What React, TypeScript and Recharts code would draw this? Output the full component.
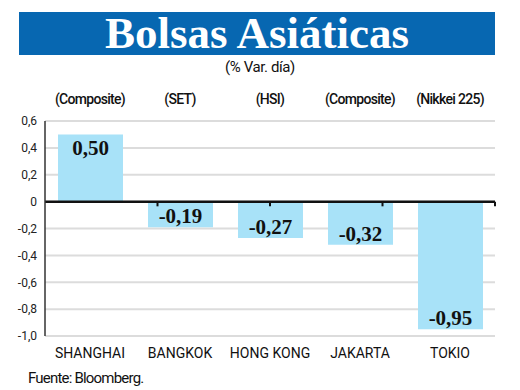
import React from "react";
import { BarChart, Bar, XAxis, YAxis, CartesianGrid, ReferenceLine, LabelList } from "recharts";

const markets = ["SHANGHAI", "BANGKOK", "HONG KONG", "JAKARTA", "TOKIO"];
const indices = ["(Composite)", "(SET)", "(HSI)", "(Composite)", "(Nikkei 225)"];
const changes = [0.5, -0.19, -0.27, -0.32, -0.95];
const yTicks = [-1, -0.8, -0.6, -0.4, -0.2, 0, 0.2, 0.4, 0.6];
const boundaryTicks = [1, 2, 3, 4, 5];

const data = markets.map((m, i) => ({ market: m, index: indices[i], value: changes[i] }));

const fmtTick = (v: number) => (v === 0 ? "0" : v.toFixed(1).replace(".", ","));
const fmtVal = (v: number) => v.toFixed(2).replace(".", ",");

const ValueLabel = (props: any) => {
  const { x, y, width, height, value } = props;
  const top = Math.min(y, y + height);
  const bottom = Math.max(y, y + height);
  const cy = value >= 0 ? top + 14 : bottom - 11;
  return (
    <text
      x={x + width / 2}
      y={cy}
      textAnchor="middle"
      dominantBaseline="central"
      fontFamily="'Liberation Serif', serif"
      fontWeight="bold"
      fontSize={21}
      fill="#111"
    >
      {fmtVal(value)}
    </text>
  );
};

export default function App() {
  return (
    <div style={{ position: "fixed", left: 0, top: 0, width: 520, height: 390, background: "#fff" }}>
      <div
        style={{
          position: "absolute",
          left: 19,
          top: 12,
          width: 476,
          height: 43,
          background: "#0767b1",
          color: "#fff",
          fontFamily: "'Liberation Serif', serif",
          fontWeight: "bold",
          fontSize: 45,
          lineHeight: "43px",
          textAlign: "center",
        }}
      >
        Bolsas Asiáticas
      </div>
      <div
        style={{
          position: "absolute",
          left: 0,
          top: 58,
          width: 520,
          textAlign: "center",
          fontFamily: "Roboto, sans-serif",
          fontSize: 15,
          letterSpacing: -0.4,
          color: "#111",
        }}
      >
        (% Var. día)
      </div>
      <BarChart
        width={520}
        height={390}
        data={data}
        margin={{ top: 91, right: 25, bottom: 24, left: 0 }}
      >
        <CartesianGrid vertical={false} stroke="#dcdcdc" strokeWidth={2} />
        <XAxis
          dataKey="market"
          axisLine={false}
          tickLine={false}
          height={30}
          tick={{ fontFamily: "Roboto, sans-serif", fontSize: 14, fill: "#111" }}
          tickMargin={6}
        />
        <XAxis
          xAxisId="top"
          dataKey="index"
          orientation="top"
          axisLine={false}
          tickLine={false}
          height={30}
          tick={{ fontFamily: "Roboto, sans-serif", fontSize: 14, fill: "#111", fontWeight: 500, letterSpacing: -0.7 }}
          tickMargin={11}
        />
        <XAxis xAxisId="num" type="number" domain={[0, 5]} hide />
        <YAxis
          width={45}
          domain={[-1, 0.6]}
          ticks={yTicks}
          tickFormatter={fmtTick}
          axisLine={{ stroke: "#333", strokeWidth: 1.5 }}
          tickLine={false}
          tickMargin={2}
          tick={{ fontFamily: "Roboto, sans-serif", fontSize: 12, fill: "#222" }}
          interval={0}
        />
        <Bar dataKey="value" fill="#a8e2f8" barSize={65} isAnimationActive={false}>
          <LabelList dataKey="value" content={ValueLabel} />
        </Bar>
        <ReferenceLine y={0} stroke="#111" strokeWidth={2.5} />
        {boundaryTicks.map((b) => (
          <ReferenceLine
            key={b}
            xAxisId="num"
            segment={[
              { x: b, y: 0 },
              { x: b, y: -0.035 },
            ]}
            stroke="#111"
            strokeWidth={2}
          />
        ))}
      </BarChart>
      <div
        style={{
          position: "absolute",
          left: 28,
          top: 369,
          fontFamily: "Roboto, sans-serif",
          fontSize: 15,
          letterSpacing: -0.8,
          color: "#111",
        }}
      >
        Fuente: Bloomberg.
      </div>
    </div>
  );
}
